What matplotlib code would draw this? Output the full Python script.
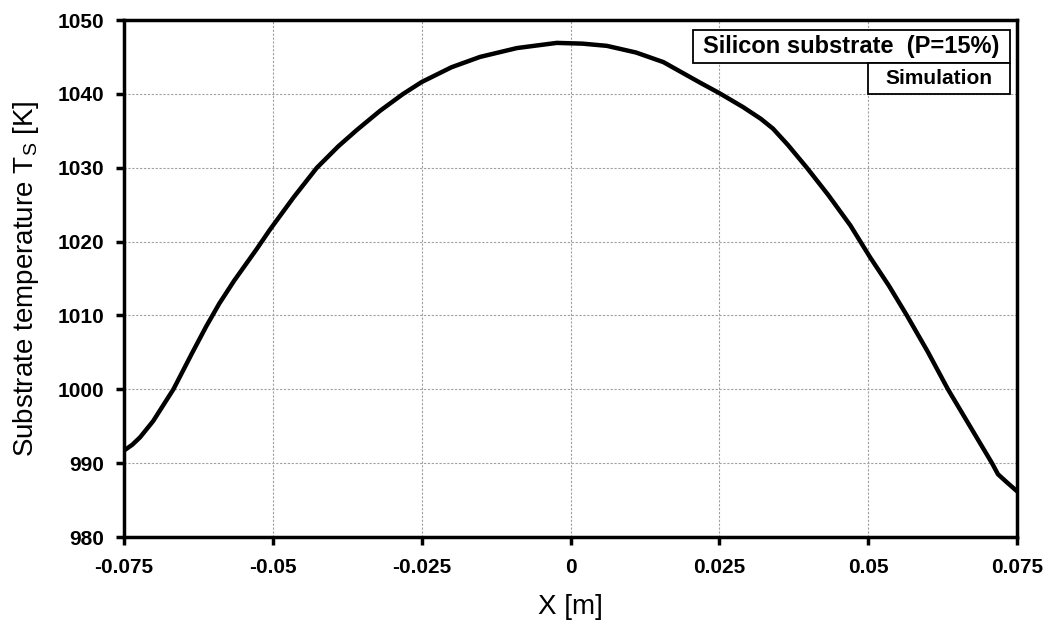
import matplotlib
matplotlib.use("Agg")
import matplotlib.pyplot as plt
from matplotlib.patches import Rectangle

plt.rcParams['font.family'] = ['Liberation Sans', 'DejaVu Sans']

x_pos = [-0.075, -0.0736, -0.0723, -0.0701, -0.0667, -0.0635, -0.0612, -0.0590,
         -0.0565, -0.0527, -0.0505, -0.0465, -0.0426, -0.0390, -0.0359, -0.0320,
         -0.0281, -0.025, -0.0200, -0.0152, -0.0090, -0.0023, 0.0020, 0.0061,
         0.0110, 0.0156, 0.0218, 0.025, 0.0290, 0.0320, 0.0340, 0.0365, 0.0397,
         0.0433, 0.0470, 0.0503, 0.0535, 0.0565, 0.0600, 0.0634, 0.0708, 0.0718,
         0.0733, 0.075]
temp = [991.7, 992.5, 993.5, 995.7, 1000.0, 1005.0, 1008.5, 1011.6,
        1014.7, 1019.0, 1021.6, 1026.0, 1030.0, 1032.9, 1035.1, 1037.7,
        1040.0, 1041.6, 1043.6, 1045.0, 1046.2, 1046.9, 1046.8, 1046.5,
        1045.6, 1044.3, 1041.5, 1040.1, 1038.2, 1036.6, 1035.3, 1033.1, 1030.0,
        1026.3, 1022.2, 1017.9, 1014.0, 1010.0, 1005.1, 1000.0, 990.0, 988.5,
        987.4, 986.2]

x_ticks = [-0.075, -0.05, -0.025, 0, 0.025, 0.05, 0.075]
x_tick_labels = ['-0.075', '-0.05', '-0.025', '0', '0.025', '0.05', '0.075']
y_ticks = [980, 990, 1000, 1010, 1020, 1030, 1040, 1050]

title_text = 'Silicon substrate  (P=15%)'
series_text = 'Simulation'

fig = plt.figure(figsize=(10.55, 6.23), dpi=100)
ax = fig.add_axes([124/1055, 1 - 537/623, (1017-124)/1055, (537-20)/623])

ax.plot(x_pos, temp, color='black', lw=3.2, solid_joinstyle='round', zorder=3)

ax.set_xlim(-0.075, 0.075)
ax.set_ylim(980, 1050)
ax.set_xticks(x_ticks)
ax.set_xticklabels(x_tick_labels)
ax.set_yticks(y_ticks)
ax.grid(True, color='#a0a0a0', linestyle=(0, (2, 1.5)), linewidth=0.8)
ax.set_axisbelow(True)

for s in ax.spines.values():
    s.set_linewidth(2.5)
ax.tick_params(axis='both', direction='out', length=6, width=2.5,
               labelsize=15)
ax.tick_params(axis='x', pad=9)
ax.tick_params(axis='y', pad=8)
for lab in ax.get_xticklabels() + ax.get_yticklabels():
    lab.set_fontweight('bold')

ax.set_xlabel('X [m]', fontsize=20, labelpad=12)
ax.set_ylabel(r'Substrate temperature T$_\mathregular{S}$ [K]', fontsize=20, labelpad=12)

# legend boxes (figure pixel coordinates)
def fig_box(x0, y0, x1, y1, text, size):
    W, H = 1055, 623
    r = Rectangle((x0/W, 1 - y1/H), (x1-x0)/W, (y1-y0)/H, transform=fig.transFigure,
                  facecolor='white', edgecolor='black', lw=1.3, zorder=5)
    fig.patches.append(r)
    fig.text((x0+x1)/2/W, 1 - (y0+y1)/2/H, text, ha='center', va='center',
             fontsize=size, fontweight='bold', zorder=6)

fig_box(693, 30, 1010, 63, title_text, 17)
fig_box(868, 63, 1010, 94, series_text, 15)

fig.savefig('out.png', dpi=100)
